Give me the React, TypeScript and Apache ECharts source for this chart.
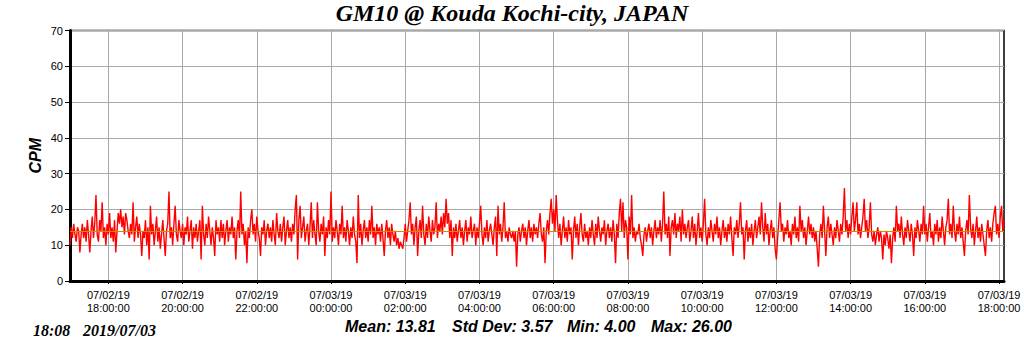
import React, { useEffect, useRef } from 'react';
import * as echarts from 'echarts';

const TITLE = 'GM10 @ Kouda Kochi-city, JAPAN';
const START_TIME = '2019-07-02T16:58:00';
const END_TIME = '2019-07-03T18:08:00';
const STEP_MINUTES = 2;

const xTickTimes = [
  '2019-07-02T18:00:00', '2019-07-02T20:00:00', '2019-07-02T22:00:00',
  '2019-07-03T00:00:00', '2019-07-03T02:00:00', '2019-07-03T04:00:00',
  '2019-07-03T06:00:00', '2019-07-03T08:00:00', '2019-07-03T10:00:00',
  '2019-07-03T12:00:00', '2019-07-03T14:00:00', '2019-07-03T16:00:00',
  '2019-07-03T18:00:00',
];

const Y_MIN = 0;
const Y_MAX = 70;
const Y_STEP = 10;

const MEAN_CPM = 13.81;
const statLabels = ['Mean: 13.81', 'Std Dev: 3.57', 'Min: 4.00', 'Max: 26.00'];
const STAMP_TIME = '18:08';
const STAMP_DATE = '2019/07/03';
const Y_NAME = 'CPM';

// CPM readings, 2-minute steps, one row per hour starting 16:58 07/02
const cpmHourly = [
  [10,15,12,16,13,11,15,14,8,13,16,12,15,11,17,13,8,14,18,12,16,24,13,11,17,14,22,12,15,10],
  [16,13,19,12,15,11,17,8,14,19,16,20,15,18,13,19,17,14,12,16,13,22,11,15,18,12,16,13,7,14],
  [12,17,10,15,6,21,13,16,10,14,18,11,15,9,13,17,12,7,14,16,25,12,15,10,16,21,13,11,17,14],
  [12,16,10,15,13,18,11,14,17,9,15,12,16,11,14,17,6,21,13,10,16,12,18,14,10,15,12,7,17,13],
  [15,11,17,12,16,10,14,17,11,15,13,18,12,15,6,14,17,12,25,13,16,10,14,5,15,12,17,20,13,16],
  [11,18,14,12,7,15,13,17,10,14,16,12,15,11,17,13,10,19,14,12,16,11,15,18,10,14,17,12,15,11],
  [16,13,20,24,6,17,21,12,15,18,11,14,16,10,15,22,12,17,13,10,22,14,11,16,13,18,7,15,12,17],
  [13,25,11,15,12,17,14,10,16,13,21,12,15,11,17,14,10,15,12,18,13,11,5,24,12,16,10,14,17,12],
  [15,11,17,13,21,12,15,10,16,13,15,11,16,12,7,14,17,12,15,10,16,13,11,14,10,12,9,11,10,9],
  [12,16,11,14,17,22,13,16,10,15,18,7,14,17,12,21,13,10,16,12,18,14,11,17,13,15,22,12,16,14],
  [18,13,19,15,23,16,19,12,17,7,15,12,16,11,14,17,12,15,10,14,17,11,15,13,18,12,14,16,10,15],
  [12,16,21,13,10,15,12,17,11,14,16,13,10,15,18,7,21,13,16,11,15,22,12,14,11,15,13,12,14,11],
  [14,4,13,15,11,14,16,12,15,10,14,17,12,15,11,16,13,15,12,16,19,13,11,15,5,14,17,13,19,23],
  [16,20,14,24,17,12,16,10,14,18,12,15,11,17,13,15,6,14,18,12,16,10,15,19,13,11,16,12,14,10],
  [15,12,17,13,10,16,12,18,14,11,15,13,17,10,14,16,12,15,11,17,13,5,16,12,19,23,14,22,12,17],
  [15,6,18,13,24,12,15,11,14,13,16,12,10,7,13,15,11,14,16,12,15,10,14,17,12,15,13,17,11,16],
  [25,13,16,12,18,7,15,17,13,19,12,16,14,18,11,20,13,16,12,15,17,11,14,18,12,16,10,14,19,12],
  [15,11,16,23,13,10,15,12,17,14,11,16,13,18,12,15,10,14,17,12,15,11,16,13,18,12,7,15,13,17],
  [12,16,22,13,15,6,14,17,11,15,12,16,10,14,17,12,15,18,13,22,15,11,19,13,16,10,14,17,12,15],
  [9,6,12,17,22,14,16,11,15,13,17,12,14,10,16,13,18,12,15,11,21,14,17,12,15,10,14,18,13,16],
  [12,15,11,14,9,4,13,16,12,21,14,7,15,18,12,16,13,10,15,12,17,14,11,16,13,18,26,14,17,12],
  [16,13,18,22,14,17,22,13,16,12,15,18,23,14,17,12,15,22,13,11,14,10,13,15,11,14,12,6,13,10],
  [14,12,9,13,5,12,15,11,21,14,16,12,18,13,10,15,12,17,14,11,16,13,7,15,12,17,14,11,16,13],
  [21,13,16,11,15,19,12,14,10,16,13,17,11,15,12,18,14,10,15,17,23,13,16,12,21,14,11,16,13,18],
  [12,15,11,7,14,17,13,24,15,12,16,10,14,18,12,15,11,16,13,10,7,14,17,12,15,11,16,19,21,13],
  [16,12,18,21,14,17],
];

const pad = (n: number) => String(n).padStart(2, '0');
const fmtTick = (v: number) => {
  const d = new Date(v);
  return `${pad(d.getMonth() + 1)}/${pad(d.getDate())}/${String(d.getFullYear()).slice(2)}\n${pad(d.getHours())}:${pad(d.getMinutes())}:${pad(d.getSeconds())}`;
};

export default function App() {
  const ref = useRef<HTMLDivElement>(null);
  useEffect(() => {
    if (!ref.current) return;
    const chart = echarts.init(ref.current, undefined, { renderer: 'svg' });
    const t0 = new Date(START_TIME).getTime();
    const t1 = new Date(END_TIME).getTime();
    const values = cpmHourly.flat();
    const data = values.map((v, i) => [t0 + i * STEP_MINUTES * 60000, v]);
    const ticks = xTickTimes.map((s) => new Date(s).getTime());
    const sans = 'Liberation Sans';
    const serif = 'Liberation Serif';
    const statX = [345, 452, 567, 651];

    chart.setOption({
      animation: false,
      backgroundColor: '#fff',
      title: {
        text: TITLE,
        left: 'center',
        top: 1,
        padding: 0,
        textStyle: { fontFamily: serif, fontStyle: 'italic', fontWeight: 'bold', fontSize: 24, color: '#000' },
      },
      grid: { left: 70, right: 20, top: 30.5, bottom: 70, show: true, borderColor: '#000', borderWidth: 1.5, backgroundColor: 'transparent' },
      xAxis: {
        type: 'value',
        min: t0,
        max: t1,
        axisLine: { show: true, lineStyle: { color: '#000', width: 3 } },
        axisTick: { show: true, customValues: ticks, length: 3, lineStyle: { color: '#000' } },
        axisLabel: {
          customValues: ticks,
          formatter: (v: number) => fmtTick(v),
          fontFamily: sans, fontSize: 11, color: '#000', lineHeight: 13, margin: 7,
        },
        splitLine: { show: true, lineStyle: { color: '#a8a8a8', width: 1 } },
      },
      yAxis: {
        type: 'value',
        min: Y_MIN,
        max: Y_MAX,
        interval: Y_STEP,
        name: Y_NAME,
        nameLocation: 'middle',
        nameGap: 27,
        nameMoveOverlap: false,
        nameRotate: 90,
        nameTextStyle: { fontFamily: sans, fontStyle: 'italic', fontWeight: 'bold', fontSize: 16, color: '#000' },
        axisLine: { show: true, lineStyle: { color: '#000', width: 3 } },
        axisTick: { show: true, length: 5, lineStyle: { color: '#000' } },
        axisLabel: { fontFamily: sans, fontSize: 11, color: '#000', margin: 7 },
        splitLine: { show: true, lineStyle: { color: '#a8a8a8', width: 1 } },
      },
      graphic: [
        ...statLabels.map((s, i) => ({
          type: 'text', left: statX[i], top: 318,
          style: { text: s, font: `italic bold 16px "${sans}"`, fill: '#000' },
        })),
        { type: 'text', left: 33, top: 322, style: { text: STAMP_TIME, font: `italic bold 16px "${serif}"`, fill: '#000' } },
        { type: 'text', left: 83, top: 322, style: { text: STAMP_DATE, font: `italic bold 16px "${serif}"`, fill: '#000' } },
      ],
      series: [
        {
          type: 'line',
          data,
          showSymbol: false,
          symbol: 'none',
          lineStyle: { color: '#ff0000', width: 1.4 },
          itemStyle: { color: '#ff0000' },
          markLine: {
            silent: true,
            symbol: 'none',
            label: { show: false },
            lineStyle: { color: '#d08a00', width: 1, type: 'solid' },
            data: [{ yAxis: MEAN_CPM }],
          },
        },
      ],
    });
    return () => chart.dispose();
  }, []);
  return <div ref={ref} style={{ position: 'fixed', left: 0, top: 0, width: 1024, height: 351 }} />;
}
